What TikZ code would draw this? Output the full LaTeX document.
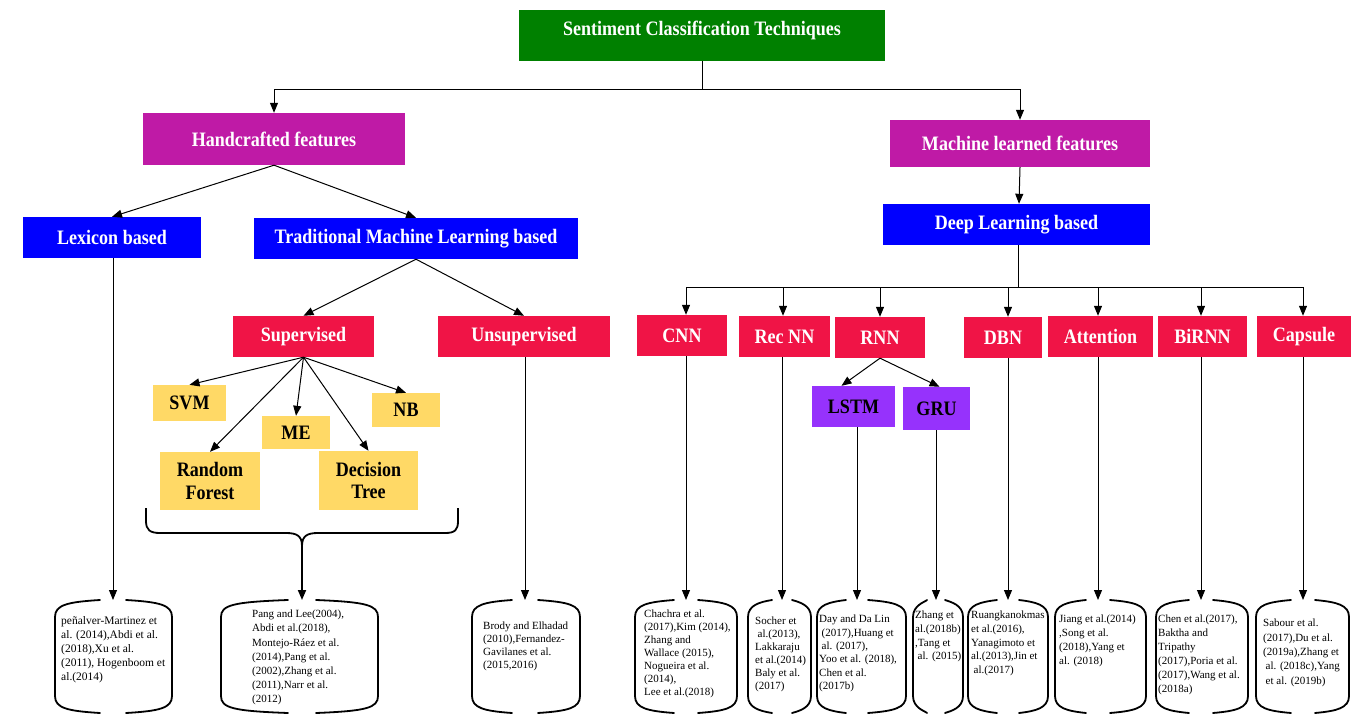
\documentclass[tikz,border=0pt]{standalone}
\usepackage{fontspec}
\setmainfont{Liberation Serif}
\newfontfamily\boxfam[FakeStretch=0.88]{Liberation Serif}
\usetikzlibrary{arrows.meta}
\definecolor{cgreen}{RGB}{0,128,0}
\definecolor{cmag}{RGB}{191,26,166}
\definecolor{cblue}{RGB}{0,0,255}
\definecolor{cred}{RGB}{240,20,70}
\definecolor{cpurp}{RGB}{150,50,252}
\definecolor{cyel}{RGB}{255,217,102}
\newcommand{\scrollbox}[5]{%
  \coordinate (#1) at (#4,600);
  \draw[scrollline] ({#4-#5},600) .. controls ({#2+12},602) and (#2,605) .. (#2,617) -- (#2,696) .. controls (#2,708) and ({#2+12},711) .. ({#4-#5},713);
  \draw[scrollline] ({#4+#5},600) .. controls ({#3-12},602) and (#3,605) .. (#3,617) -- (#3,696) .. controls (#3,708) and ({#3-12},711) .. ({#4+#5},713);
}
\tikzset{
  box/.style={rectangle, inner sep=0pt, font=\boxfam\bfseries\fontsize{20.5}{22.5}\selectfont, text=white, align=center},
  darkbox/.style={box, text=black},
  arr/.style={line width=1pt, -{Triangle[length=10pt,width=8pt]}},
  ln/.style={line width=1pt},
  scrollline/.style={line width=1.8pt, line cap=round},
  reftext/.style={inner sep=0pt, anchor=north west, align=left, font=\fontsize{11}{13.6}\selectfont},
}
\begin{document}
\begin{tikzpicture}[x=1pt,y=-1pt]
\fill[white] (0,0) rectangle (1362,719);
\useasboundingbox (0,0) rectangle (1362,719);

% top levels
\node[box, fill=cgreen, minimum width=366pt, minimum height=51pt, text height=12pt, text depth=12pt] (title) at (702,35.5) {Sentiment Classification Techniques};
\node[box, fill=cmag, minimum width=262pt, minimum height=52pt] (hand) at (274,139) {Handcrafted features};
\node[box, fill=cmag, minimum width=260pt, minimum height=47pt] (mach) at (1020,143.5) {Machine learned features};
\node[box, fill=cblue, minimum width=178pt, minimum height=41pt] (lex) at (112,237.5) {Lexicon based};
\node[box, fill=cblue, minimum width=324pt, minimum height=41pt] (tml) at (416,238.5) {Traditional Machine Learning based};
\node[box, fill=cblue, minimum width=267pt, minimum height=41pt] (dl) at (1016.5,224.5) {Deep Learning based};

% red level
\node[box, fill=cred, minimum width=141pt, minimum height=41pt] (sup) at (303.5,336.5) {Supervised};
\node[box, fill=cred, minimum width=172pt, minimum height=41pt] (uns) at (524,336.5) {Unsupervised};
\node[box, fill=cred, minimum width=90pt, minimum height=41pt] (cnn) at (682,335.5) {CNN};
\node[box, fill=cred, minimum width=91pt, minimum height=41pt] (rec) at (784.5,336.5) {Rec NN};
\node[box, fill=cred, minimum width=90pt, minimum height=41pt] (rnn) at (880,337.5) {RNN};
\node[box, fill=cred, minimum width=78pt, minimum height=41pt] (dbn) at (1003,337.5) {DBN};
\node[box, fill=cred, minimum width=105pt, minimum height=41pt] (att) at (1100.5,336.5) {Attention};
\node[box, fill=cred, minimum width=89pt, minimum height=41pt] (bir) at (1202.5,336.5) {BiRNN};
\node[box, fill=cred, minimum width=94pt, minimum height=41pt] (cap) at (1304,336.5) {Capsule};

% purple
\node[darkbox, fill=cpurp, minimum width=83pt, minimum height=41pt] (lstm) at (853.5,406.5) {LSTM};
\node[darkbox, fill=cpurp, minimum width=67pt, minimum height=43pt] (gru) at (936.5,408.5) {GRU};

% yellow
\node[darkbox, fill=cyel, minimum width=73pt, minimum height=36pt] (svm) at (189.5,403) {SVM};
\node[darkbox, fill=cyel, minimum width=68pt, minimum height=33pt] (me) at (296,432.5) {ME};
\node[darkbox, fill=cyel, minimum width=68pt, minimum height=34pt] (nb) at (406,410) {NB};
\node[darkbox, fill=cyel, minimum width=100pt, minimum height=58pt] (rf) at (210,481) {Random\\Forest};
\node[darkbox, fill=cyel, minimum width=99pt, minimum height=59pt] (dt) at (368.5,480.5) {Decision\\Tree};

% connectors top
\coordinate (tj) at (702,90);
\draw[ln] (title.south) -- (tj);
\draw[arr] (tj) -| (hand.north);
\draw[arr] (tj) -| (mach.north);
\draw[arr] (hand.south) -- (lex.north);
\draw[arr] (hand.south) -- (tml.north);
\draw[arr] (mach.south) -- ([xshift=-1pt]mach.south |- dl.north);
\draw[arr] (tml.south) -- (sup.north);
\draw[arr] (tml.south) -- (uns.north);
\draw[arr] (sup.south) -- (svm.north);
\draw[arr] (sup.south) -- (me.north);
\draw[arr] (sup.south) -- (nb.north);
\draw[arr] (sup.south) -- (rf.north);
\draw[arr] (sup.south) -- (dt.north);
\draw[arr] (rnn.south) -- ([xshift=-12pt]lstm.north);
\draw[arr] (rnn.south) -- ([xshift=3pt]gru.north);

\coordinate (dj) at (1018,287);
\draw[ln] (dj |- dl.south) -- (dj);
\foreach \b/\xx in {cnn/686,rec/783,rnn/880,dbn/1008,att/1098,bir/1201,cap/1303}{
  \coordinate (dj\b) at (\xx,287);
  \draw[arr] (dj) -- (dj\b) -- (dj\b |- \b.north);
}

% brace
\coordinate (btip) at (302,546);
\draw[line width=1.8pt, line join=round] (146,508) -- (146,521) .. controls (146,530) and (150,533) .. (160,533) -- (286,533) .. controls (297,533) and (302,536) .. (btip) .. controls (302,536) and (307,533) .. (318,533) -- (445,533) .. controls (455,533) and (458,530) .. (458,521) -- (458,508);

% scrolls
\scrollbox{clex}{55}{172}{113}{13}
\scrollbox{ctml}{221}{378}{302}{14}
\scrollbox{cuns}{472}{580}{525}{13}
\scrollbox{ccnn}{635}{737}{686}{12}
\scrollbox{crec}{748}{811}{782}{10}
\scrollbox{clstm}{817}{906}{857}{11}
\scrollbox{cgru}{913}{963}{936}{9}
\scrollbox{cdbn}{968}{1048}{1008}{11}
\scrollbox{catt}{1055}{1146}{1098}{12}
\scrollbox{cbir}{1156}{1248}{1201}{12}
\scrollbox{ccap}{1256}{1349}{1303}{12}

% connectors to scrolls
\draw[arr] (clex |- lex.south) -- (clex);
\draw[arr, line width=1.8pt] (btip) -- (ctml);
\draw[arr] (cuns |- uns.south) -- (cuns);
\draw[arr] (ccnn |- cnn.south) -- (ccnn);
\draw[arr] (crec |- rec.south) -- (crec);
\draw[arr] (clstm |- lstm.south) -- (clstm);
\draw[arr] (cgru |- gru.south) -- (cgru);
\draw[arr] (cdbn |- dbn.south) -- (cdbn);
\draw[arr] (catt |- att.south) -- (catt);
\draw[arr] (cbir |- bir.south) -- (cbir);
\draw[arr] (ccap |- cap.south) -- (ccap);

% texts
\node[reftext, font=\fontsize{11.5}{14}\selectfont] (tlex) at (61,616) {pe\~nalver-Martinez et\\al. (2014),Abdi et al.\\(2018),Xu et al.\\(2011), Hogenboom et\\al.(2014)};
\node[reftext, font=\fontsize{11}{14.1}\selectfont] (ttml) at (252,610) {Pang and Lee(2004),\\Abdi et al.(2018),\\Montejo-Ráez et al.\\(2014),Pang et al.\\(2002),Zhang et al.\\(2011),Narr et al.\\(2012)};
\node[reftext, font=\fontsize{11}{13}\selectfont] (tuns) at (483,622) {Brody and Elhadad\\(2010),Fernandez-\\Gavilanes et al.\\(2015,2016)};
\node[reftext, font=\fontsize{11}{12.9}\selectfont] (tcnn) at (644,610) {Chachra et al.\\(2017),Kim (2014),\\Zhang and\\Wallace (2015),\\Nogueira et al.\\(2014),\\Lee et al.(2018)};
\node[reftext, font=\fontsize{11}{12.9}\selectfont] (trec) at (755,617) {Socher et\\\hspace*{2.5pt}al.(2013),\\Lakkaraju\\et al.(2014)\\Baly et al.\\(2017)};
\node[reftext, font=\fontsize{11}{13.3}\selectfont] (tlstm) at (819,615) {Day and Da Lin\\\hspace*{2.5pt}(2017),Huang et\\\hspace*{2.5pt}al. (2017),\\Yoo et al. (2018),\\Chen et al.\\(2017b)};
\node[reftext, font=\fontsize{11}{13.6}\selectfont] (tgru) at (915,611) {Zhang et\\al.(2018b)\\,Tang et\\\hspace*{2.5pt}al. (2015)};
\node[reftext, font=\fontsize{11}{13.6}\selectfont] (tdbn) at (971,611) {Ruangkanokmas\\et al.(2016),\\Yanagimoto et\\al.(2013),Jin et\\\hspace*{2.5pt}al.(2017)};
\node[reftext, font=\fontsize{11}{14}\selectfont] (tatt) at (1059,615) {Jiang et al.(2014)\\,Song et al.\\(2018),Yang et\\al. (2018)};
\node[reftext, font=\fontsize{11}{14}\selectfont] (tbir) at (1158,615) {Chen et al.(2017),\\Baktha and\\Tripathy\\(2017),Poria et al.\\(2017),Wang et al.\\(2018a)};
\node[reftext, font=\fontsize{11}{14.3}\selectfont] (tcap) at (1263,619) {Sabour et al.\\(2017),Du et al.\\(2019a),Zhang et\\\hspace*{2.5pt}al. (2018c),Yang\\\hspace*{2.5pt}et al. (2019b)};
\end{tikzpicture}
\end{document}
